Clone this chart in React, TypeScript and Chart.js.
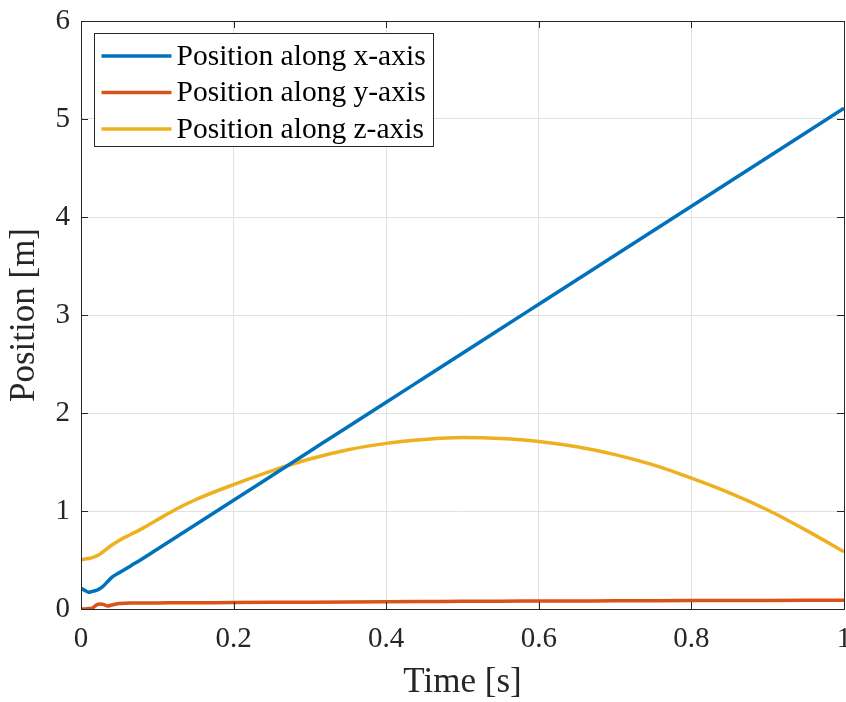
import React, { useEffect, useRef } from "react";
import { Chart, registerables } from "chart.js";

Chart.register(...registerables);

const time = [0, 0.005, 0.01, 0.015, 0.02, 0.025, 0.03, 0.035, 0.04, 0.05, 0.065, 0.08, 0.1, 0.125, 0.15, 0.2, 0.25, 0.3, 0.35, 0.4, 0.45, 0.5, 0.55, 0.6, 0.65, 0.7, 0.75, 0.8, 0.85, 0.9, 0.95, 1.0];
const posX = [0.21, 0.19, 0.17, 0.18, 0.19, 0.21, 0.24, 0.28, 0.32, 0.37, 0.44, 0.51, 0.61, 0.735, 0.86, 1.11, 1.36, 1.61, 1.86, 2.11, 2.36, 2.61, 2.86, 3.11, 3.36, 3.61, 3.86, 4.11, 4.36, 4.61, 4.86, 5.11];
const posY = [0.0, 0.0, 0.005, 0.01, 0.04, 0.05, 0.045, 0.03, 0.04, 0.055, 0.06, 0.06, 0.062, 0.063, 0.064, 0.066, 0.068, 0.07, 0.072, 0.074, 0.076, 0.078, 0.08, 0.081, 0.082, 0.084, 0.085, 0.086, 0.087, 0.088, 0.089, 0.09];
const posZ = [0.5, 0.51, 0.515, 0.525, 0.54, 0.56, 0.59, 0.62, 0.65, 0.7, 0.76, 0.82, 0.91, 1.02, 1.115, 1.27, 1.41, 1.53, 1.625, 1.69, 1.73, 1.75, 1.74, 1.71, 1.655, 1.575, 1.47, 1.335, 1.185, 1.01, 0.805, 0.585];

const seriesLabels = ["Position along x-axis", "Position along y-axis", "Position along z-axis"];
const seriesColors = ["#0072BD", "#D95319", "#EDB120"];
const xTicks = [0, 0.2, 0.4, 0.6, 0.8, 1];
const yTicks = [0, 1, 2, 3, 4, 5, 6];
const xTitle = "Time [s]";
const yTitle = "Position [m]";

const FONT = "'Liberation Serif', 'Times New Roman', serif";
const AXIS_COLOR = "#262626";

const boxPlugin = {
  id: "matlabBox",
  afterDraw(chart: any) {
    const { ctx, chartArea: ca, scales } = chart;
    ctx.save();
    ctx.strokeStyle = AXIS_COLOR;
    ctx.lineWidth = 1;
    const tl = 7;
    ctx.beginPath();
    xTicks.forEach((v) => {
      const px = Math.round(scales.x.getPixelForValue(v)) + 0.5;
      ctx.moveTo(px, ca.bottom);
      ctx.lineTo(px, ca.bottom - tl);
      ctx.moveTo(px, ca.top);
      ctx.lineTo(px, ca.top + tl);
    });
    yTicks.forEach((v) => {
      const py = Math.round(scales.y.getPixelForValue(v)) + 0.5;
      ctx.moveTo(ca.left, py);
      ctx.lineTo(ca.left + tl, py);
      ctx.moveTo(ca.right, py);
      ctx.lineTo(ca.right - tl, py);
    });
    ctx.stroke();
    ctx.strokeRect(Math.round(ca.left) + 0.5, Math.round(ca.top) + 0.5, Math.round(ca.right - ca.left), Math.round(ca.bottom - ca.top));

    // legend
    const bx = Math.round(ca.left + 13) + 0.5;
    const by = Math.round(ca.top + 12) + 0.5;
    const bw = 339;
    const bh = 113;
    ctx.fillStyle = "#ffffff";
    ctx.fillRect(bx, by, bw, bh);
    ctx.strokeStyle = AXIS_COLOR;
    ctx.lineWidth = 1;
    ctx.strokeRect(bx, by, bw, bh);
    ctx.font = `29.5px ${FONT}`;
    ctx.textBaseline = "middle";
    ctx.textAlign = "left";
    chart.data.datasets.forEach((ds: any, i: number) => {
      const ry = by + 22.5 + i * 36.5;
      ctx.strokeStyle = ds.borderColor;
      ctx.lineWidth = 3.5;
      ctx.beginPath();
      ctx.moveTo(bx + 7, ry);
      ctx.lineTo(bx + 77, ry);
      ctx.stroke();
      ctx.fillStyle = "#000000";
      ctx.fillText(ds.label, bx + 82, ry + 1);
    });
    ctx.restore();
  },
};

export default function App() {
  const ref = useRef<HTMLCanvasElement | null>(null);
  useEffect(() => {
    document.body.style.margin = "0";
    const canvas = ref.current;
    if (!canvas) return;
    const seriesValues = [posX, posY, posZ];
    const chart = new Chart(canvas, {
      type: "line",
      data: {
        datasets: seriesValues.map((vals, i) => ({
          label: seriesLabels[i],
          data: time.map((t, j) => ({ x: t, y: vals[j] })),
          borderColor: seriesColors[i],
          backgroundColor: seriesColors[i],
          borderWidth: 3.5,
          pointRadius: 0,
          cubicInterpolationMode: "monotone" as const,
          fill: false,
        })),
      },
      options: {
        animation: false,
        responsive: false,
        layout: { padding: { top: 21, right: 2, left: 0, bottom: 0 } },
        plugins: { legend: { display: false }, tooltip: { enabled: false } },
        scales: {
          x: {
            type: "linear",
            min: 0,
            max: 1,
            afterFit: (s: any) => {
              s.height = 93;
              s.paddingLeft = 0;
              s.paddingRight = 0;
            },
            afterBuildTicks: (s: any) => {
              s.ticks = xTicks.map((v) => ({ value: v }));
            },
            ticks: {
              padding: 13,
              color: AXIS_COLOR,
              font: { family: FONT, size: 29 },
              maxRotation: 0,
              autoSkip: false,
              callback: (v: any) => String(Number(v)),
            },
            grid: { color: "#e1e1e1", lineWidth: 1, drawTicks: false },
            border: { display: false },
            title: {
              display: true,
              text: xTitle,
              color: AXIS_COLOR,
              font: { family: FONT, size: 35, lineHeight: 1 },
              padding: { top: 0, bottom: 2 },
            },
          },
          y: {
            type: "linear",
            min: 0,
            max: 6,
            afterFit: (s: any) => {
              s.width = 81;
              s.paddingTop = 0;
              s.paddingBottom = 0;
            },
            afterBuildTicks: (s: any) => {
              s.ticks = yTicks.map((v) => ({ value: v }));
            },
            ticks: {
              padding: 11,
              color: AXIS_COLOR,
              font: { family: FONT, size: 29 },
              autoSkip: false,
              callback: (v: any) => String(Number(v)),
            },
            grid: { color: "#e1e1e1", lineWidth: 1, drawTicks: false },
            border: { display: false },
            title: {
              display: true,
              text: yTitle,
              color: AXIS_COLOR,
              font: { family: FONT, size: 35, lineHeight: 1 },
              padding: { top: 7, bottom: 0 },
            },
          },
        },
      },
      plugins: [boxPlugin],
    });
    return () => chart.destroy();
  }, []);
  return <canvas ref={ref} width={846} height={702} style={{ display: "block" }} />;
}
